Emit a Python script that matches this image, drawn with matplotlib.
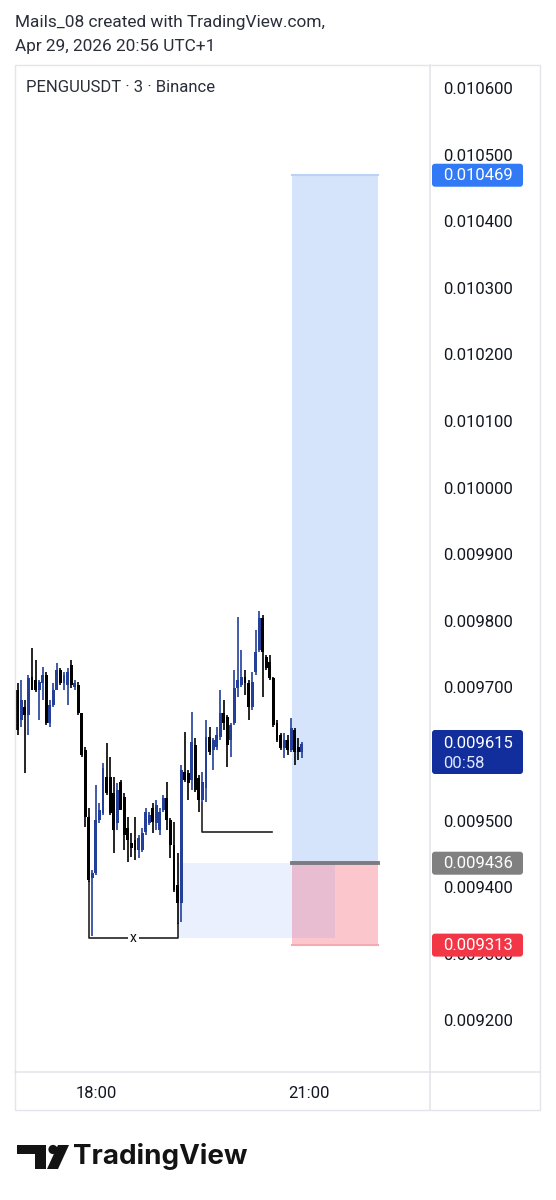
import matplotlib
matplotlib.use("Agg")
import matplotlib.pyplot as plt
from matplotlib.patches import Rectangle, Polygon, Circle, FancyBboxPatch
from matplotlib.ticker import FuncFormatter
import numpy as np

plt.rcParams['font.family'] = ['Roboto', 'DejaVu Sans']

# ---------------- data ----------------
header_lines = ["Mails_08 created with TradingView.com,", "Apr 29, 2026 20:56 UTC+1"]
symbol_title = "PENGUUSDT · 3 · Binance"

opens = [0.009726, 0.009696, 0.009651, 0.009671, 0.009659, 0.009716, 0.009711, 0.009696,
         0.009706, 0.009719, 0.009646, 0.009674, 0.009696, 0.009726, 0.009706, 0.009704,
         0.009734, 0.009701, 0.009704, 0.009662, 0.009606, 0.009506, 0.009414, 0.009422,
         0.009501, 0.009511, 0.009565, 0.009565, 0.009541, 0.009496, 0.009558, 0.009536,
         0.009489, 0.009466, 0.009471, 0.009456, 0.009456, 0.009483, 0.009496, 0.009519,
         0.009496, 0.009486, 0.009516, 0.009534, 0.009501, 0.009464, 0.009404, 0.009376,
         0.009573, 0.009571, 0.009561, 0.009614, 0.009564, 0.009531, 0.009549, 0.009626,
         0.009606, 0.009611, 0.009626, 0.009661, 0.009656, 0.009621, 0.009646, 0.009699,
         0.009704, 0.009716, 0.009706, 0.009671, 0.009723, 0.009756, 0.009804, 0.009746,
         0.009738, 0.009714, 0.009646, 0.009629, 0.009609, 0.009621, 0.009606, 0.009636,
         0.009611, 0.009603]
highs = [0.009729, 0.009706, 0.009711, 0.009681, 0.009719, 0.009759, 0.009741, 0.009711,
         0.009731, 0.009723, 0.009681, 0.009706, 0.009736, 0.009729, 0.009723, 0.009729,
         0.009741, 0.009711, 0.009708, 0.009662, 0.009610, 0.009519, 0.009426, 0.009554,
         0.009526, 0.009586, 0.009616, 0.009596, 0.009566, 0.009556, 0.009561, 0.009541,
         0.009506, 0.009481, 0.009506, 0.009479, 0.009489, 0.009519, 0.009513, 0.009526,
         0.009531, 0.009519, 0.009539, 0.009558, 0.009504, 0.009498, 0.009451, 0.009584,
         0.009633, 0.009576, 0.009663, 0.009624, 0.009569, 0.009573, 0.009651, 0.009641,
         0.009624, 0.009641, 0.009696, 0.009681, 0.009659, 0.009646, 0.009726, 0.009806,
         0.009756, 0.009726, 0.009711, 0.009723, 0.009786, 0.009814, 0.009809, 0.009749,
         0.009749, 0.009716, 0.009651, 0.009631, 0.009631, 0.009629, 0.009654, 0.009639,
         0.009624, 0.009618]
lows = [0.009663, 0.009629, 0.009641, 0.009571, 0.009629, 0.009696, 0.009693, 0.009651,
        0.009681, 0.009644, 0.009641, 0.009671, 0.009696, 0.009704, 0.009696, 0.009674,
        0.009699, 0.009696, 0.009659, 0.009596, 0.009490, 0.009408, 0.009326, 0.009419,
        0.009496, 0.009509, 0.009539, 0.009509, 0.009451, 0.009486, 0.009516, 0.009456,
        0.009438, 0.009446, 0.009441, 0.009444, 0.009453, 0.009479, 0.009494, 0.009481,
        0.009486, 0.009479, 0.009513, 0.009486, 0.009444, 0.009393, 0.009344, 0.009348,
        0.009558, 0.009531, 0.009546, 0.009543, 0.009513, 0.009526, 0.009528, 0.009599,
        0.009576, 0.009606, 0.009621, 0.009636, 0.009581, 0.009596, 0.009644, 0.009686,
        0.009701, 0.009689, 0.009651, 0.009666, 0.009719, 0.009753, 0.009686, 0.009726,
        0.009711, 0.009641, 0.009618, 0.009606, 0.009594, 0.009599, 0.009603, 0.009584,
        0.009591, 0.009594]
closes = [0.009666, 0.009636, 0.009681, 0.009659, 0.009714, 0.009696, 0.009696, 0.009708,
          0.009719, 0.009646, 0.009674, 0.009696, 0.009726, 0.009706, 0.009719, 0.009723,
          0.009704, 0.009706, 0.009662, 0.009599, 0.009506, 0.009411, 0.009422, 0.009501,
          0.009516, 0.009579, 0.009541, 0.009511, 0.009486, 0.009546, 0.009516, 0.009479,
          0.009471, 0.009459, 0.009456, 0.009474, 0.009481, 0.009513, 0.009509, 0.009498,
          0.009524, 0.009513, 0.009534, 0.009501, 0.009464, 0.009396, 0.009376, 0.009576,
          0.009561, 0.009556, 0.009618, 0.009546, 0.009531, 0.009558, 0.009626, 0.009603,
          0.009621, 0.009629, 0.009661, 0.009646, 0.009614, 0.009644, 0.009699, 0.009711,
          0.009716, 0.009706, 0.009671, 0.009708, 0.009753, 0.009804, 0.009753, 0.009729,
          0.009714, 0.009644, 0.009621, 0.009609, 0.009621, 0.009606, 0.009639, 0.009603,
          0.009603, 0.009615]

time_tick_idx = [23, 83]            # candle index of 18:00 and 21:00 (3-minute bars)
time_tick_labels = ["18:00", "21:00"]
# 0.009600 is hidden behind the last-price label in the reference
price_ticks = [0.0092, 0.0093, 0.0094, 0.0095, 0.0097, 0.0098, 0.0099,
               0.0100, 0.0101, 0.0102, 0.0103, 0.0104, 0.0105, 0.0106]

entry_price = 0.009436
target_price = 0.010469
stop_price = 0.009313
last_price = 0.009615
countdown = "00:58"

position_start_idx, position_end_idx = 78.2, 102.4
zone_start_idx, zone_end_idx = 46, 90.3
bracket1_idx = [21, 46]
bracket1_level = 0.009324
bracket2_idx = [53, 72.6]
bracket2_level = 0.009483

# ---------------- figure ----------------
W, H = 556, 1200
fig = plt.figure(figsize=(W / 100, H / 100), dpi=100)
fig.patch.set_facecolor('white')

L, R, T, B = 15, 430, 65, 1072
ax = fig.add_axes([L / W, (H - B) / H, (R - L) / W, (B - T) / H])
ax.set_facecolor('white')
for s in ax.spines.values():
    s.set_visible(False)

ax.set_xlim(0.2, 117.1)
ax.set_ylim(0.0091225, 0.0106345)

UP = '#233f9a'
DOWN = '#000000'
o = np.array(opens); h = np.array(highs); lo = np.array(lows); c = np.array(closes)
idx = np.arange(len(o))
cols = np.where(c >= o, UP, DOWN)
ax.vlines(idx, lo, h, colors=cols, linewidth=1.2, zorder=5)
body_bot = np.minimum(o, c)
body_h = np.maximum(np.abs(c - o), 0.0000035)
ax.bar(idx, body_h, bottom=body_bot, width=0.82, color=cols, linewidth=0, zorder=5)

# long position tool
ax.add_patch(Rectangle((position_start_idx, entry_price), position_end_idx - position_start_idx,
                       target_price - entry_price, facecolor='#d5e3fb', edgecolor='none', zorder=1))
ax.plot([position_start_idx, position_end_idx], [target_price, target_price], color='#bcd1f6', lw=1.5, zorder=1.5)
ax.add_patch(Rectangle((position_start_idx, stop_price), position_end_idx - position_start_idx,
                       entry_price - stop_price, facecolor='#fbc7cd', edgecolor='none', zorder=1))
ax.plot([position_start_idx, position_end_idx], [stop_price, stop_price], color='#f4aab3', lw=1.5, zorder=1.5)
# light zone
ax.add_patch(Rectangle((zone_start_idx, bracket1_level), zone_end_idx - zone_start_idx,
                       entry_price - bracket1_level, facecolor='#2962ff', alpha=0.09,
                       edgecolor='none', zorder=2))
ax.plot([position_start_idx, position_end_idx], [entry_price, entry_price], color='#7b7b80', lw=2.8, zorder=3)

# bracket drawings
ax.plot([bracket1_idx[0], bracket1_idx[0], bracket1_idx[1], bracket1_idx[1]],
        [lows[bracket1_idx[0]], bracket1_level, bracket1_level, lows[bracket1_idx[1]]],
        color='#222222', lw=1.2, zorder=4)
ax.text(np.mean(bracket1_idx), bracket1_level, "x", ha='center', va='center', fontsize=10,
        color='#111111', zorder=6, bbox=dict(facecolor='white', edgecolor='none', pad=1.5))
ax.plot([bracket2_idx[0], bracket2_idx[0], bracket2_idx[1]],
        [lows[bracket2_idx[0]], bracket2_level, bracket2_level],
        color='#222222', lw=1.2, zorder=4)

# axes ticks
ax.yaxis.tick_right()
ax.set_yticks(price_ticks)
ax.yaxis.set_major_formatter(FuncFormatter(lambda v, p: f"{v:.6f}"))
ax.tick_params(axis='y', length=0, pad=9.4, labelsize=12, labelcolor='#131722')
ax.set_xticks(time_tick_idx)
ax.set_xticklabels(time_tick_labels)
ax.tick_params(axis='x', length=0, pad=10, labelsize=12, labelcolor='#131722')

# ---------------- overlay (layout, labels) ----------------
ov = fig.add_axes([0, 0, 1, 1], zorder=10)
ov.set_xlim(0, W); ov.set_ylim(H, 0)
ov.axis('off')
ov.patch.set_alpha(0)

def py(p):
    return H - ax.transData.transform((0, p))[1]

frame = '#e3e5ea'
ov.add_patch(Rectangle((L, T), 540 - L, 1110 - T, facecolor='none', edgecolor=frame, lw=1))
ov.plot([R, R], [T, 1110], color=frame, lw=1.2)
ov.plot([L, 540], [B, B], color=frame, lw=1.2)

ov.text(15, 22, header_lines[0], fontsize=12.4, color='#2a2e39', va='center', ha='left')
ov.text(15, 47, header_lines[1], fontsize=12.4, color='#2a2e39', va='center', ha='left')
ov.text(26, 88, symbol_title, fontsize=12, color='#2a2e39', va='center', ha='left')

def price_label(p, text, bg, fg='white', h=23):
    y = py(p)
    ov.add_patch(FancyBboxPatch((432, y - h / 2), 91, h, boxstyle='round,pad=0,rounding_size=3',
                                facecolor=bg, edgecolor='none'))
    ov.text(443, y, text, fontsize=12, color=fg, va='center', ha='left')

price_label(target_price, f"{target_price:.6f}", '#3179f5')
price_label(entry_price, f"{entry_price:.6f}", '#808080')
price_label(stop_price, f"{stop_price:.6f}", '#f23645')
# last price (two lines)
yl = py(last_price)
ov.add_patch(FancyBboxPatch((432, yl - 14), 91, 44, boxstyle='round,pad=0,rounding_size=3',
                            facecolor='#112e9c', edgecolor='none'))
ov.text(443, yl, f"{last_price:.6f}", fontsize=12, color='white', va='center', ha='left')
ov.text(443, yl + 20, countdown, fontsize=12, color='#dfe6ff', va='center', ha='left')

# TradingView logo
ov.add_patch(Rectangle((17, 1145), 29, 9, facecolor='#131313', edgecolor='none'))
ov.add_patch(Rectangle((35, 1145), 11, 24, facecolor='#131313', edgecolor='none'))
ov.add_patch(Circle((53, 1149.5), 4.6, facecolor='#131313', edgecolor='none'))
ov.add_patch(Polygon([(58, 1145), (69, 1145), (58, 1169), (47, 1169)], closed=True,
                     facecolor='#131313', edgecolor='none'))
ov.text(73, 1157, "TradingView", fontsize=20, fontweight='bold', color='#131313',
        va='center', ha='left', family=['Inter', 'Roboto', 'DejaVu Sans'])

fig.savefig('out.png', dpi=100, facecolor='white')
